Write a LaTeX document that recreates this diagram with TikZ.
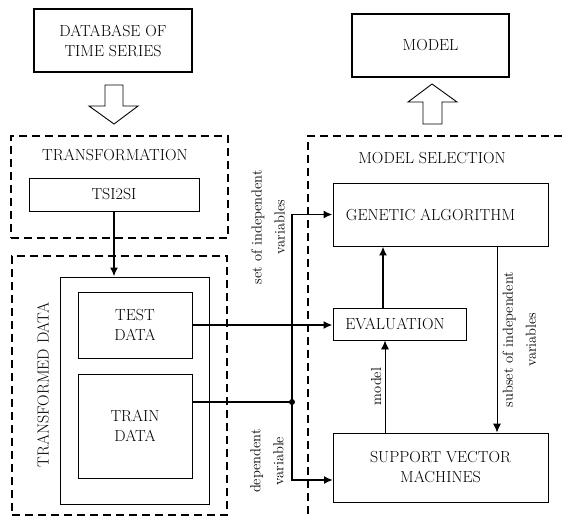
\documentclass[tikz,border=0pt]{standalone}
\usetikzlibrary{arrows.meta}

\begin{document}
\begin{tikzpicture}[x=1pt,y=-1pt,
  font=\fontsize{16}{20}\selectfont,
  box/.style={draw,line width=0.9pt,align=center,inner sep=0pt},
  heavybox/.style={box,line width=1.8pt},
  dashbox/.style={draw,line width=1.8pt,dash pattern=on 8pt off 5pt,inner sep=0pt},
  conn/.style={line width=1.8pt,-{Latex[length=9pt,width=8pt]}},
  thinconn/.style={line width=0.9pt,-{Latex[length=9pt,width=8pt]}},
  lab/.style={rotate=90,align=center,font=\fontsize{14.5}{23}\selectfont}]
  \useasboundingbox (0,0) rectangle (562,516);

  % top boxes and hollow arrows
  \node[heavybox,minimum width=158pt,minimum height=63pt] (db) at (113,40.5) {DATABASE OF\\TIME SERIES};
  \node[heavybox,minimum width=157pt,minimum height=63pt] (model) at (430.5,45.5) {MODEL};
  \draw[line width=0.9pt] (105,85) -- (123,85) -- (123,106) -- (138,106) -- (114,124)
    -- (89,106) -- (105,106) -- cycle;
  \draw[line width=0.9pt] (423,124) -- (442,124) -- (442,102) -- (457,102) -- (432,84)
    -- (408,102) -- (423,102) -- cycle;

  % transformation
  \node[dashbox,minimum width=217pt,minimum height=102pt] (trans) at (119.5,187) {};
  \node (transtitle) at (115,155) {TRANSFORMATION};
  \node[box,minimum width=170pt,minimum height=33pt] (tsi) at (114,194.5) {TSI2SI};

  % transformed data
  \node[dashbox,minimum width=215pt,minimum height=259pt] (tdata) at (119.5,385.5) {};
  \node[rotate=90] (tdatatitle) at (43,385) {TRANSFORMED DATA};
  \node[box,minimum width=149pt,minimum height=227pt] (inner) at (134.5,390.5) {};
  \node[box,minimum width=114pt,minimum height=66pt] (test) at (135,325) {TEST\\DATA};
  \node[box,minimum width=114pt,minimum height=104pt] (train) at (135,426) {TRAIN\\DATA};

  % model selection (runs off the page)
  \draw[line width=1.8pt,dash pattern=on 8pt off 5pt] (562,136) -- (308,136) -- (308,516);
  \node (seltitle) at (432,158) {MODEL SELECTION};
  \node[box,minimum width=215pt,minimum height=63pt] (ga) at (440.5,214.5) {GENETIC ALGORITHM\hspace{20pt}};
  \node[box,minimum width=133pt,minimum height=32pt] (eval) at (399.5,324) {EVALUATION\hspace{9pt}};
  \node[box,minimum width=215pt,minimum height=69pt] (svm) at (440.5,467.5) {SUPPORT VECTOR\\MACHINES};

  % connectors
  \coordinate (j) at (292,402);
  \coordinate (svmin) at (333,480);
  \draw[conn] (tsi.south) -- (tsi.south |- inner.north);
  \draw[conn] (test.east) -- (test.east -| eval.west);
  \draw[line width=1.8pt] (j -| train.east) -- (j);
  \fill (j) circle (3pt);
  \draw[conn] (j) |- (ga.west);
  \draw[conn] (j) |- (svmin);
  \draw[conn] ([xshift=-16.5pt]eval.north) -- ([xshift=-16.5pt]eval.north |- ga.south);
  \draw[thinconn] ([xshift=-55.5pt]svm.north) -- ([xshift=-55.5pt]svm.north |- eval.south)
    node[midway,lab,anchor=south] (modellab) {model};
  \draw[thinconn] ([xshift=56.5pt]ga.south) -- ([xshift=56.5pt]ga.south |- svm.north)
    node[midway,lab,anchor=north,yshift=-2pt] (subsetlab) {subset of independent\\variables};

  % labels on the input lines
  \node[lab] (setlab) at (268,227) {set of independent\\variables};
  \node[lab] (deplab) at (267,461) {dependent\\variable};
\end{tikzpicture}
\end{document}
